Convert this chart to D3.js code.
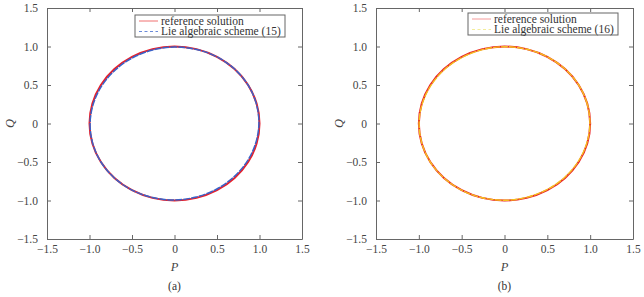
<!DOCTYPE html>
<html>
<head>
<meta charset="utf-8">
<script src="https://cdn.jsdelivr.net/npm/d3@7"></script>
<style>
  body { margin: 0; background: #fff; }
  svg { font-family: "Liberation Serif", "Times New Roman", serif; }
</style>
</head>
<body>
<svg id="chart" width="644" height="297"></svg>
<script>
// tick values shared by both axes
var ticks = [-1.5, -1.0, -0.5, 0, 0.5, 1.0, 1.5];
var tickLabels = ["\u22121.5", "\u22121.0", "\u22120.5", "0", "0.5", "1.0", "1.5"];

// reference solution (sampled every 15 degrees)
var refP = [1.000, 0.966, 0.866, 0.707, 0.500, 0.259, 0.000, -0.259, -0.500, -0.707, -0.866, -0.966,
            -1.000, -0.966, -0.866, -0.707, -0.500, -0.259, 0.000, 0.259, 0.500, 0.707, 0.866, 0.966];
var refQ = [0.000, 0.259, 0.500, 0.707, 0.866, 0.966, 1.000, 0.966, 0.866, 0.707, 0.500, 0.259,
            0.000, -0.259, -0.500, -0.707, -0.866, -0.966, -1.000, -0.966, -0.866, -0.707, -0.500, -0.259];

// Lie algebraic scheme (15)
var s15P = [0.993, 0.962, 0.865, 0.707, 0.500, 0.258, 0.000, -0.256, -0.493, -0.696, -0.854, -0.955,
            -0.993, -0.962, -0.865, -0.707, -0.500, -0.258, 0.000, 0.256, 0.493, 0.696, 0.854, 0.955];
var s15Q = [0.000, 0.258, 0.500, 0.707, 0.865, 0.962, 0.993, 0.955, 0.854, 0.696, 0.493, 0.256,
            0.000, -0.258, -0.500, -0.707, -0.865, -0.962, -0.993, -0.955, -0.854, -0.696, -0.493, -0.256];

// Lie algebraic scheme (16)
var s16P = [0.997, 0.964, 0.866, 0.707, 0.500, 0.259, 0.000, -0.257, -0.496, -0.701, -0.859, -0.960,
            -0.997, -0.964, -0.866, -0.707, -0.500, -0.259, 0.000, 0.257, 0.496, 0.701, 0.859, 0.960];
var s16Q = [0.000, 0.259, 0.500, 0.707, 0.866, 0.964, 0.997, 0.960, 0.859, 0.701, 0.496, 0.257,
            0.000, -0.259, -0.500, -0.707, -0.866, -0.964, -0.997, -0.960, -0.859, -0.701, -0.496, -0.257];

var panels = [
  { left: 47, right: 302, tag: "(a)",
    series: [
      { name: "reference solution", P: refP, Q: refQ, color: "#e8202a", width: 2, dash: null, legend: "#f07070" },
      { name: "Lie algebraic scheme (15)", P: s15P, Q: s15Q, color: "#3a62c8", width: 1.5, dash: "7,1", legend: "#6a8ad8" }
    ],
    legend: { x: 135, y: 15, w: 150, h: 22 } },
  { left: 376, right: 633, tag: "(b)",
    series: [
      { name: "reference solution", P: refP, Q: refQ, color: "#e8202a", width: 2, dash: null, legend: "#f59a9a" },
      { name: "Lie algebraic scheme (16)", P: s16P, Q: s16Q, color: "#f5c020", width: 1.4, dash: "7,1", legend: "#f3ec9a" }
    ],
    legend: { x: 468, y: 13, w: 150, h: 22 } }
];

var plotTop = 8, plotBottom = 239;
var svg = d3.select("#chart");
var axisColor = "#666", textColor = "#444";

panels.forEach(function(p) {
  var x = d3.scaleLinear().domain([-1.5, 1.5]).range([p.left, p.right]);
  var y = d3.scaleLinear().domain([-1.5, 1.5]).range([plotBottom, plotTop]);
  var g = svg.append("g");

  var fmt = function(d) { return tickLabels[ticks.indexOf(d)]; };

  // axes: labelled bottom/left, tick-only top/right, ticks inward
  var styleAxis = function(sel) {
    sel.selectAll("path").attr("stroke", axisColor);
    sel.selectAll("line").attr("stroke", axisColor);
    sel.selectAll("text").attr("fill", textColor)
      .style("font-family", "Liberation Serif, Times New Roman, serif")
      .style("font-size", "11.5px");
  };
  g.append("g").attr("transform", "translate(0," + plotBottom + ")")
    .call(d3.axisBottom(x).tickValues(ticks).tickFormat(fmt).tickSizeInner(-4).tickSizeOuter(0).tickPadding(6))
    .call(styleAxis);
  g.append("g").attr("transform", "translate(0," + plotTop + ")")
    .call(d3.axisTop(x).tickValues(ticks).tickFormat("").tickSizeInner(-4).tickSizeOuter(0))
    .call(styleAxis);
  g.append("g").attr("transform", "translate(" + p.left + ",0)")
    .call(d3.axisLeft(y).tickValues(ticks).tickFormat(fmt).tickSizeInner(-4).tickSizeOuter(0).tickPadding(9))
    .call(styleAxis);
  g.append("g").attr("transform", "translate(" + p.right + ",0)")
    .call(d3.axisRight(y).tickValues(ticks).tickFormat("").tickSizeInner(-4).tickSizeOuter(0))
    .call(styleAxis);

  // curves
  var line = d3.line()
    .x(function(d) { return x(d[0]); })
    .y(function(d) { return y(d[1]); })
    .curve(d3.curveCardinalClosed.tension(0.0));

  p.series.forEach(function(s) {
    var pts = s.P.map(function(v, i) { return [v, s.Q[i]]; });
    g.append("path")
      .attr("d", line(pts))
      .attr("fill", "none")
      .attr("stroke", s.color)
      .attr("stroke-width", s.width)
      .attr("stroke-dasharray", s.dash);
  });

  // axis titles
  var cx = (p.left + p.right) / 2;
  g.append("text").attr("x", cx).attr("y", 271)
    .attr("text-anchor", "middle").attr("fill", textColor)
    .style("font-style", "italic").style("font-size", "12.5px").text("P");
  g.append("text")
    .attr("transform", "translate(" + (p.left - 33) + "," + y(0) + ") rotate(-90)")
    .attr("text-anchor", "middle").attr("fill", textColor)
    .style("font-style", "italic").style("font-size", "12.5px").text("Q");
  g.append("text").attr("x", cx).attr("y", 290)
    .attr("text-anchor", "middle").attr("fill", "#333")
    .style("font-size", "11.5px").text(p.tag);

  // legend
  var L = p.legend;
  g.append("rect").attr("x", L.x).attr("y", L.y).attr("width", L.w).attr("height", L.h)
    .attr("fill", "#fff").attr("stroke", "#666").attr("stroke-width", 1);
  p.series.forEach(function(s, i) {
    var ly = L.y + 6 + i * 10.5;
    g.append("line").attr("x1", L.x + 4).attr("x2", L.x + 23).attr("y1", ly).attr("y2", ly)
      .attr("stroke", s.legend).attr("stroke-width", 1)
      .attr("stroke-dasharray", s.dash ? "3,2.5" : null);
    g.append("text").attr("x", L.x + 26).attr("y", ly + 3.5)
      .attr("fill", "#333").style("font-size", "11.5px").text(s.name);
  });
});
</script>
</body>
</html>
